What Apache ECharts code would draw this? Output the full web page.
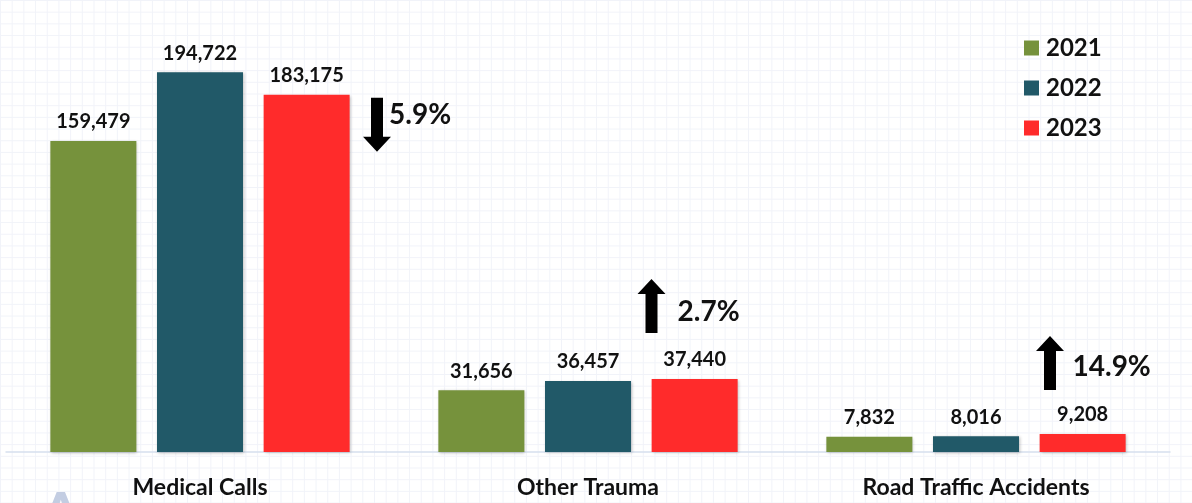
<!DOCTYPE html>
<html>
<head>
<meta charset="utf-8">
<script src="https://cdn.jsdelivr.net/npm/echarts@6/dist/echarts.min.js"></script>
<style>
html,body{margin:0;padding:0;background:#fff;}
#c{width:1192px;height:503px;
background-color:#fff;
background-image:linear-gradient(to right,#f1f3f9 1px,transparent 1px),linear-gradient(to bottom,#f1f3f9 1px,transparent 1px);
background-size:11.7px 11.7px;}
</style>
</head>
<body>
<div id="c"></div>
<script>
const categories = ['Medical Calls', 'Other Trauma', 'Road Traffic Accidents'];
const years = ['2021', '2022', '2023'];
const values2021 = [159479, 31656, 7832];
const values2022 = [194722, 36457, 8016];
const values2023 = [183175, 37440, 9208];
const colors = ['#76923c', '#215968', '#ff2b2b'];

const FONT = 'Lato, "Open Sans", sans-serif';
const chart = echarts.init(document.getElementById('c'), null, {renderer: 'canvas'});

const seriesData = [values2021, values2022, values2023];
const series = years.map((y, i) => ({
  name: y,
  type: 'bar',
  data: seriesData[i],
  barWidth: 86,
  barGap: '24%',
  itemStyle: {color: colors[i], shadowColor: 'rgba(0,0,0,0.25)', shadowBlur: 3, shadowOffsetX: 1, shadowOffsetY: 1},
  label: {
    show: true, position: 'top', distance: 9,
    fontFamily: FONT, fontWeight: 'bold', fontSize: 20, lineHeight: 20, color: '#111',
    formatter: p => p.value.toLocaleString('en-US')
  },
  emphasis: {disabled: true}
}));

chart.setOption({
  animation: false,
  backgroundColor: 'transparent',
  grid: {left: 6, right: 22, top: 62, bottom: 51},
  legend: {
    orient: 'vertical', left: 1019, top: 30,
    itemWidth: 15, itemHeight: 15, itemGap: 14, icon: 'rect',
    textStyle: {fontFamily: FONT, fontWeight: 'bold', fontSize: 24, lineHeight: 26, color: '#111', padding: [0, 0, 0, 2]},
    data: years
  },
  xAxis: {
    type: 'category', data: categories,
    axisLine: {lineStyle: {color: '#d6e0ee', width: 1.5}},
    axisTick: {show: false},
    axisLabel: {fontFamily: FONT, fontWeight: 'bold', fontSize: 23, lineHeight: 23, color: '#111', margin: 24}
  },
  yAxis: {type: 'value', min: 0, max: 200000, show: false, splitLine: {show: false}},
  series: series
});

// change annotations (computed from data), anchored to category centre and 2023 bar top
const changes = values2023.map((v, i) => (v - values2022[i]) / values2022[i] * 100);
const annot = [
  {arrowDx: 177, arrowDy: 3, textDx: 189, textDy: 20},
  {arrowDx: 63.5, arrowDy: -100, textDx: 89.5, textDy: -67},
  {arrowDx: 74, arrowDy: -98, textDx: 96.5, textDy: -67}
];
const graphics = [];
categories.forEach((c, i) => {
  const cx = chart.convertToPixel({xAxisIndex: 0}, i);
  const yTop = chart.convertToPixel({yAxisIndex: 0}, values2023[i]);
  const a = annot[i];
  const ax = cx + a.arrowDx, ay = yTop + a.arrowDy;
  const H = 54, HW = 14, SW = 6, HH = 15;
  let pts;
  if (changes[i] < 0) {
    pts = [[ax - SW, ay], [ax + SW, ay], [ax + SW, ay + H - HH], [ax + HW, ay + H - HH], [ax, ay + H], [ax - HW, ay + H - HH], [ax - SW, ay + H - HH]];
  } else {
    pts = [[ax, ay], [ax + HW, ay + HH], [ax + SW, ay + HH], [ax + SW, ay + H], [ax - SW, ay + H], [ax - SW, ay + HH], [ax - HW, ay + HH]];
  }
  graphics.push({type: 'polygon', shape: {points: pts}, style: {fill: '#000'}, silent: true});
  graphics.push({
    type: 'text', x: cx + a.textDx, y: yTop + a.textDy, silent: true,
    style: {text: Math.abs(changes[i]).toFixed(1) + '%', fontFamily: FONT, fontWeight: 'bold', fontSize: 28, fill: '#111', verticalAlign: 'middle', align: 'left'}
  });
});
graphics.push({type: 'text', x: 40, y: 486, silent: true, style: {text: 'A', fontFamily: FONT, fontWeight: 'bold', fontSize: 60, fill: '#c3cde2'}});
chart.setOption({graphic: graphics});
</script>
</body>
</html>
